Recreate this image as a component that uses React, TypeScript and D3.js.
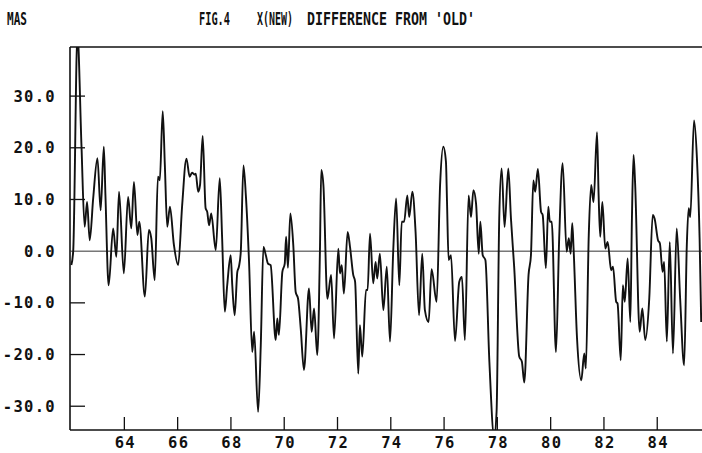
import * as d3 from "d3";

// decimal year and difference (mas)
const years = [
  62.01, 62.08, 62.24, 62.39, 62.51, 62.6, 62.7, 62.83, 62.99, 63.11, 63.23, 63.29, 63.41, 63.58, 63.7, 63.8, 63.98,
  64.14, 64.26, 64.36, 64.49, 64.56, 64.77, 64.92, 65.01, 65.14, 65.26, 65.33, 65.44, 65.52, 65.61, 65.71, 65.86,
  66.02, 66.17, 66.33, 66.45, 66.54, 66.64, 66.68, 66.77, 66.84, 66.94, 67.05, 67.11, 67.18, 67.26, 67.43, 67.58,
  67.67, 67.77, 67.86, 67.99, 68.05, 68.14, 68.24, 68.3, 68.37, 68.47, 68.56, 68.68, 68.8, 68.87, 69.02, 69.12,
  69.22, 69.31, 69.39, 69.49, 69.68, 69.74, 69.8, 69.93, 70.02, 70.07, 70.14, 70.23, 70.34, 70.43, 70.52, 70.62,
  70.74, 70.93, 71.03, 71.12, 71.24, 71.34, 71.39, 71.47, 71.62, 71.76, 71.87, 72.03, 72.09, 72.16, 72.24, 72.38,
  72.47, 72.59, 72.66, 72.78, 72.84, 72.93, 73.07, 73.13, 73.22, 73.34, 73.43, 73.49, 73.59, 73.72, 73.85, 73.97,
  74.09, 74.2, 74.32, 74.41, 74.5, 74.62, 74.69, 74.81, 74.93, 75.06, 75.18, 75.28, 75.42, 75.53, 75.72, 75.85,
  75.97, 76.07, 76.11, 76.17, 76.26, 76.41, 76.57, 76.67, 76.78, 76.92, 77.01, 77.1, 77.2, 77.3, 77.36, 77.45,
  77.55, 77.7, 77.88, 77.97, 78.07, 78.16, 78.27, 78.41, 78.51, 78.63, 78.82, 78.92, 79.01, 79.17, 79.26, 79.35,
  79.42, 79.52, 79.64, 79.7, 79.82, 79.91, 79.97, 80.04, 80.2, 80.32, 80.45, 80.6, 80.68, 80.75, 80.81, 80.86,
  80.99, 81.15, 81.26, 81.32, 81.43, 81.52, 81.61, 81.74, 81.8, 81.86, 81.94, 82.05, 82.14, 82.27, 82.34, 82.46,
  82.51, 82.63, 82.71, 82.78, 82.89, 82.99, 83.05, 83.11, 83.17, 83.34, 83.44, 83.55, 83.7, 83.83, 83.9, 84.03,
  84.1, 84.2, 84.26, 84.36, 84.47, 84.59, 84.73, 84.86, 85.01, 85.11, 85.18, 85.24, 85.38, 85.49, 85.59, 85.65,
];
const diffs = [
  -2.7, 0, 42, 20.5, 4.7, 9.5, 2.1, 10.2, 18, 7.9, 20.2, 10.8, -6.6, 4.4, -1.1, 11.5, -4.3,
  10.5, 4.4, 13.4, 3.1, 5.7, -8.8, 4.1, 2.5, -5.6, 14.4, 13.7, 27.1, 16.6, 4.7, 8.6, 1.2,
  -2.7, 8.9, 17.9, 14.4, 15.2, 14.8, 15, 11.5, 12.8, 22.3, 8.3, 7.6, 5, 7.3, 0.2, 14.1,
  2.5, -11.7, -6.6, -0.8, -6.6, -12.4, -4, -3, -0.1, 16.6, 10.8, -2.1, -19.5, -15.6, -31.1, -18.2,
  0.8, -0.8, -2.4, -2.7, -17.2, -13, -16.2, -4, -2.4, 2.8, -3.2, 7.3, 1.2, -7.9, -9.2, -15,
  -23, -7.2, -15.6, -11.1, -20.1, -0.1, 15.7, 12.8, -9.2, -4.6, -16.9, 0.5, -4.3, -2.7, -8.2, 3.7,
  0.8, -4.6, -5.9, -23.7, -14.3, -20.4, -7.5, -7.5, 3.4, -6.2, -2.1, -5.3, -0.5, -11.4, -3, -17.5,
  -0.1, 10.2, -6.6, 5.7, 5.7, 10.8, 6.6, 11.5, 3.7, -12.4, -0.5, -11.4, -13.7, -3.5, -9.8, 12.8,
  20.2, 17.3, 9.5, -1.7, -0.8, -17.4, -5.9, -5, -17.2, 10.8, 6.6, 11.8, 9.2, -0.5, 5.7, -0.8,
  -1.7, -21.4, -36, -31.1, 6.3, 16, 4.7, 16, 6.3, -3, -20.4, -21.4, -25.4, -4.6, -0.8, 13.7,
  11.5, 15.9, 7.6, 7, -3.3, 8.6, 5.7, 5.7, -19.5, 2.5, 17, -0.1, 2.5, -0.5, 5.4, 0.5,
  -16.9, -25, -19.8, -22.7, 3.1, 12.8, 9.5, 23, 10.8, 2.8, 9.5, 0.5, 1.8, -3.7, -3, -9.8,
  -10.1, -21.1, -6.6, -9.8, -1.4, -13.7, 6.3, 18.6, 13.1, -15.6, -11.1, -17.2, -9.2, 7, 6.3, 2.1,
  1.5, -4, -2.1, -17.5, 1.8, -19.8, 4.4, -9.2, -22.1, 1.2, 8.3, 6.6, 25.3, 17.9, 2.5, -13.7,
];

const yTicks = [30, 20, 10, 0, -10, -20, -30];
const xTicks = [64, 66, 68, 70, 72, 74, 76, 78, 80, 82, 84];

// header pieces: text, left x, width it takes in the reference
const titles: [string, number, number][] = [
  ["MAS", 7, 20],
  ["FIG.4", 199, 31],
  ["X(NEW)", 257, 36],
  ["DIFFERENCE FROM 'OLD'", 307, 168],
];

const W = 702;
const H = 453;
const left = 70;
const right = 702;
const top = 47;
const bottom = 430;

const font = "'DejaVu Sans Mono', monospace";
const titleSize = 17;
const monoAdvance = 0.602; // em width of a DejaVu Sans Mono glyph

export default function App() {
  const x = d3.scaleLinear().domain([61.96, 85.68]).range([left, right]);
  const y = d3.scaleLinear().domain([-34.6, 39.5]).range([bottom, top]);

  const line = d3
    .line<number>()
    .x((_, i) => x(years[i]))
    .y((d) => y(d))
    .curve(d3.curveMonotoneX);

  return (
    <svg
      width={W}
      height={H}
      viewBox={`0 0 ${W} ${H}`}
      style={{ position: "absolute", left: 0, top: 0, background: "#fff" }}
    >
      <defs>
        <clipPath id="plot">
          <rect x={left} y={top} width={right - left} height={bottom - top} />
        </clipPath>
      </defs>

      {/* titles, squeezed horizontally like the plotter lettering */}
      <g fill="#111" fontFamily={font} fontSize={titleSize} fontWeight="bold">
        {titles.map(([s, tx, w]) => (
          <text
            key={s}
            transform={`translate(${tx},25) scale(${w / (s.length * monoAdvance * titleSize)},1)`}
          >
            {s}
          </text>
        ))}
      </g>

      {/* frame */}
      <g stroke="#111" fill="none">
        <line x1={left} x2={right} y1={top} y2={top} strokeWidth={1.6} />
        <line x1={left} x2={left} y1={top} y2={bottom} strokeWidth={1.6} />
        <line x1={left} x2={right} y1={bottom} y2={bottom} strokeWidth={1.6} />
        <line x1={left} x2={right} y1={y(0)} y2={y(0)} strokeWidth={1} stroke="#333" />
        {yTicks
          .filter((t) => t !== 0)
          .map((t) => (
            <line key={t} x1={left} x2={left + 15} y1={y(t)} y2={y(t)} strokeWidth={1.3} />
          ))}
        {xTicks.map((t) => (
          <line key={t} x1={x(t)} x2={x(t)} y1={bottom} y2={bottom - 13} strokeWidth={1.3} />
        ))}
      </g>

      {/* tick labels */}
      <g fill="#111" fontFamily={font} fontWeight="bold" fontSize={15.5} letterSpacing={1.3}>
        {yTicks.map((t) => (
          <text key={t} x={56} y={y(t) + 5.5} textAnchor="end">
            {t.toFixed(1)}
          </text>
        ))}
        {xTicks.map((t) => (
          <text key={t} x={x(t) + 1} y={448} textAnchor="middle">
            {t}
          </text>
        ))}
      </g>

      <path
        d={line(diffs) ?? ""}
        fill="none"
        stroke="#111"
        strokeWidth={1.9}
        strokeLinejoin="round"
        clipPath="url(#plot)"
      />
    </svg>
  );
}
